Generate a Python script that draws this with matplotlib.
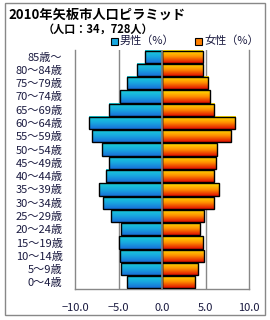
import matplotlib.pyplot as plt
import numpy as np
from matplotlib.patches import Rectangle
from matplotlib.colors import LinearSegmentedColormap

plt.rcParams['font.family'] = ['Noto Sans CJK JP', 'DejaVu Sans']

ages = ["0～4歳", "5～9歳", "10～14歳", "15～19歳", "20～24歳", "25～29歳",
        "30～34歳", "35～39歳", "40～44歳", "45～49歳", "50～54歳", "55～59歳",
        "60～64歳", "65～69歳", "70～74歳", "75～79歳", "80～84歳", "85歳～"]
male = [4.0, 4.7, 4.8, 4.9, 4.7, 5.9, 6.8, 7.2, 6.4, 6.1, 6.9, 8.0,
        8.4, 6.1, 4.8, 4.0, 2.9, 1.9]
female = [3.8, 4.1, 4.8, 4.7, 4.4, 4.8, 6.0, 6.6, 6.0, 6.2, 6.3, 7.9,
          8.4, 6.0, 5.5, 5.3, 4.7, 4.7]
xticks = [-10, -5, 0, 5, 10]
txt = "#1a1a40"

fig = plt.figure(figsize=(2.7, 3.2), dpi=100)
ax = fig.add_axes([75/270, 1-289/320, 174/270, 239/320])

y = np.arange(len(ages))
mb = ax.barh(y, -np.array(male), height=0.92, facecolor="none", edgecolor="black", linewidth=1.0, zorder=3)
fb = ax.barh(y, female, height=0.92, facecolor="none", edgecolor="black", linewidth=1.0, zorder=3)

# vertical gradients inside bars
grad = np.linspace(0, 1, 32).reshape(-1, 1)
cm_m = LinearSegmentedColormap.from_list("m", ["#1ad0d8", "#18a8e0", "#1870d8"])
cm_f = LinearSegmentedColormap.from_list("f", ["#ffe400", "#ff9000", "#e01000"])
for bars, cm in [(mb, cm_m), (fb, cm_f)]:
    for p in bars:
        x0, y0 = p.get_x(), p.get_y()
        w, h = p.get_width(), p.get_height()
        ax.imshow(grad, cmap=cm, aspect="auto", origin="upper",
                  extent=[min(x0, x0+w), max(x0, x0+w), y0, y0+h], zorder=2)

ax.axvline(0, color="#888888", lw=1.2, zorder=4)
for gx in [-5, 5]:
    ax.axvline(gx, color="#888888", lw=1.0, zorder=1)

ax.set_xlim(-10, 10)
ax.set_ylim(-0.5, len(ages)-0.5)
ax.set_xticks(xticks)
ax.set_xticklabels(["−10.0", "−5.0", "0.0", "5.0", "10.0"], fontsize=8, color=txt)
ax.set_yticks(y)
ax.set_yticklabels(ages, fontsize=8, color=txt)
ax.tick_params(length=0, pad=9)
ax.tick_params(axis="x", pad=10)
for s in ["left", "right", "bottom"]:
    ax.spines[s].set_color("#888888")
    ax.spines[s].set_linewidth(1.0)
ax.spines["top"].set_visible(False)

fig.text(8/270, 1-15/320, "2010年矢板市人口ピラミッド", fontsize=9.5, fontweight="bold", va="center", ha="left")
fig.text(43/270, 1-29/320, "（人口：34，728人）", fontsize=8, fontweight="bold", va="center", ha="left")

# legend
fig.patches.append(Rectangle((111/270, 1-45/320), 7/270, 7/320, transform=fig.transFigure,
                             facecolor="#18a8e0", edgecolor="black", lw=0.8))
fig.text(120/270, 1-41/320, "男性（%）", fontsize=8, color=txt, va="center", ha="left")
fig.patches.append(Rectangle((195/270, 1-45/320), 7/270, 7/320, transform=fig.transFigure,
                             facecolor="#ff8000", edgecolor="black", lw=0.8))
fig.text(204/270, 1-41/320, "女性（%）", fontsize=8, color=txt, va="center", ha="left")

# outer frame
fig.patches.append(Rectangle((5/270, 1-315/320), 260/270, 312/320, transform=fig.transFigure,
                             facecolor="none", edgecolor="#888888", lw=1.0))

plt.savefig("out.png", dpi=100)
